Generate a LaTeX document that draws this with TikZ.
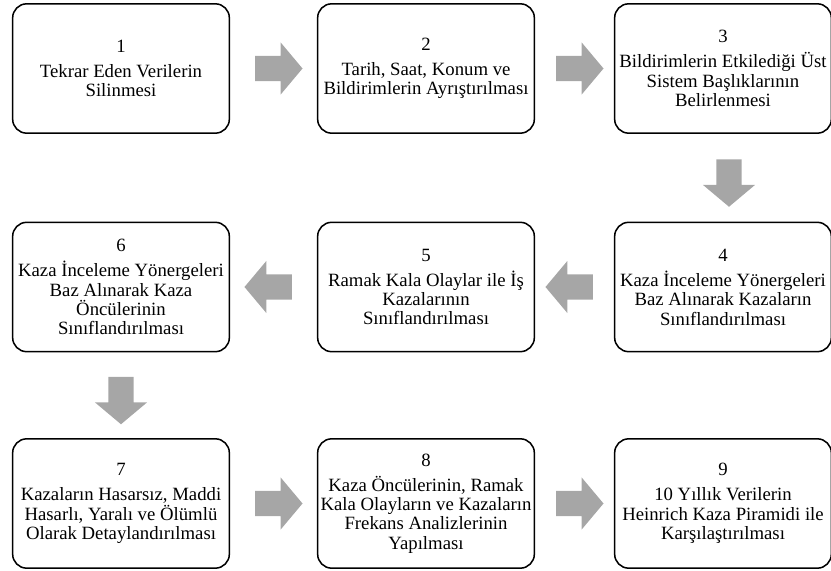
\documentclass[tikz,border=0pt]{standalone}
\usepackage{fontspec}
\setmainfont{Liberation Serif}
\usetikzlibrary{shapes.arrows, positioning, calc}
\definecolor{arrowgray}{RGB}{166,166,166}

\begin{document}
\begin{tikzpicture}[x=0.03cm,y=-0.03cm]

\tikzstyle{stagebox} = [rectangle, draw, line width=1.3pt,
  rounded corners=0.42cm, minimum width=6.5cm, minimum height=3.88cm,
  align=center, inner sep=1pt, font=\fontsize{16}{16.5}\selectfont]
\tikzstyle{blockarrow} = [single arrow, draw=none, fill=arrowgray,
  minimum height=1.42cm, inner xsep=0pt, inner ysep=0.375cm,
  single arrow head extend=0.4cm, single arrow tip angle=100]

\useasboundingbox (0,0) rectangle (831,571);

% column and row centres
\def\ca{121}
\def\cb{426}
\def\cc{723}
\def\ra{68.5}
\def\rb{287}
\def\rc{503.5}

\node[stagebox] (s1) at (\ca,\ra) {1\\[5pt]Tekrar Eden Verilerin\\Silinmesi};
\node[stagebox] (s2) at (\cb,\ra) {2\\[5pt]Tarih, Saat, Konum ve\\Bildirimlerin Ayrıştırılması};
\node[stagebox] (s3) at (\cc,\ra) {3\\[5pt]Bildirimlerin Etkilediği Üst\\Sistem Başlıklarının\\Belirlenmesi};

\node[stagebox] (s4) at (\cc,\rb) {4\\[5pt]Kaza İnceleme Yönergeleri\\Baz Alınarak Kazaların\\Sınıflandırılması};
\node[stagebox] (s5) at (\cb,\rb) {5\\[5pt]Ramak Kala Olaylar ile İş\\Kazalarının\\Sınıflandırılması};
\node[stagebox] (s6) at (\ca,\rb) {6\\[5pt]Kaza İnceleme Yönergeleri\\Baz Alınarak Kaza\\Öncülerinin\\Sınıflandırılması};

\node[stagebox] (s7) at (\ca,\rc) {7\\[5pt]Kazaların Hasarsız, Maddi\\Hasarlı, Yaralı ve Ölümlü\\Olarak Detaylandırılması};
\node[stagebox] (s8) at (\cb,\rc) {8\\[5pt]Kaza Öncülerinin, Ramak\\Kala Olayların ve Kazaların\\Frekans Analizlerinin\\Yapılması};
\node[stagebox] (s9) at (\cc,\rc) {9\\[5pt]10 Yıllık Verilerin\\Heinrich Kaza Piramidi ile\\Karşılaştırılması};

% block arrows between the stages
\node[blockarrow] (a12) at ($(s1.east)!0.5!(s2.west)$) {};
\node[blockarrow] (a23) at ($(s2.east)!0.5!(s3.west)$) {};
\node[blockarrow, rotate=-90] (a34) at ($(s3.south)!0.5!(s4.north)+(6,0)$) {};
\node[blockarrow, shape border rotate=180] (a45) at ($(s4.west)!0.5!(s5.east)$) {};
\node[blockarrow, shape border rotate=180] (a56) at ($(s5.west)!0.5!(s6.east)$) {};
\node[blockarrow, rotate=-90] (a67) at ($(s6.south)!0.5!(s7.north)$) {};
\node[blockarrow] (a78) at ($(s7.east)!0.5!(s8.west)$) {};
\node[blockarrow] (a89) at ($(s8.east)!0.5!(s9.west)$) {};

\end{tikzpicture}
\end{document}
